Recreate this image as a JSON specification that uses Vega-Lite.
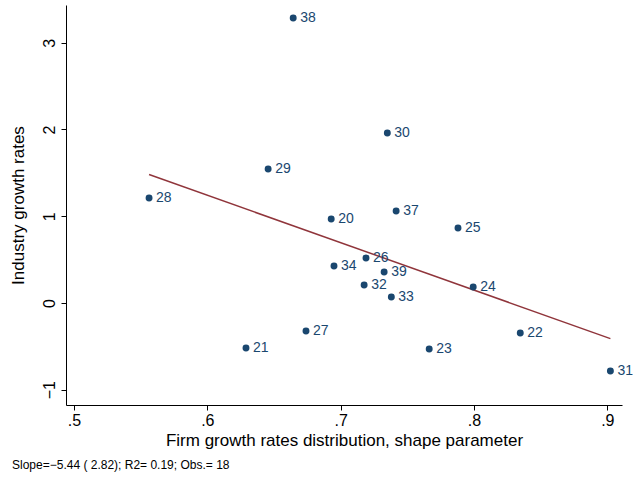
{
  "$schema": "https://vega.github.io/schema/vega-lite/v6.json",
  "width": 556,
  "height": 400,
  "autosize": "none",
  "padding": {"left": 66, "top": 5, "right": 12, "bottom": 80},
  "background": "white",
  "config": {"view": {"stroke": null}, "font": "Liberation Sans"},
  "title": {"text": "Slope=−5.44 ( 2.82); R2= 0.19; Obs.= 18", "orient": "bottom", "anchor": "start", "frame": "group", "dx": -54, "offset": 12, "fontSize": 12, "fontWeight": "normal", "color": "black"},
  "data": {"values": [
    {"id": "38", "x": 0.6644, "y": 3.285},
    {"id": "30", "x": 0.735, "y": 1.96},
    {"id": "29", "x": 0.6456, "y": 1.545},
    {"id": "28", "x": 0.5563, "y": 1.21},
    {"id": "20", "x": 0.6929, "y": 0.968},
    {"id": "37", "x": 0.7416, "y": 1.06},
    {"id": "25", "x": 0.788, "y": 0.865},
    {"id": "26", "x": 0.719, "y": 0.519},
    {"id": "34", "x": 0.695, "y": 0.427},
    {"id": "39", "x": 0.7326, "y": 0.357},
    {"id": "32", "x": 0.7176, "y": 0.207},
    {"id": "33", "x": 0.738, "y": 0.069},
    {"id": "24", "x": 0.7994, "y": 0.184},
    {"id": "27", "x": 0.674, "y": -0.323},
    {"id": "22", "x": 0.8347, "y": -0.346},
    {"id": "21", "x": 0.629, "y": -0.519},
    {"id": "23", "x": 0.7664, "y": -0.53},
    {"id": "31", "x": 0.9023, "y": -0.784}
  ]},
  "encoding": {
    "x": {"field": "x", "type": "quantitative", "scale": {"domain": [0.494, 0.911], "nice": false, "zero": false},
      "axis": {"title": "Firm growth rates distribution, shape parameter", "values": [0.5, 0.6, 0.7, 0.8, 0.9], "labelExpr": "replace(format(datum.value, '.1f'), '0.', '.')", "grid": false, "domainColor": "black", "tickColor": "black", "tickSize": 5, "labelFontSize": 16, "labelColor": "black", "titleFontSize": 17, "titleFontWeight": "normal", "titleColor": "black", "titlePadding": 4}},
    "y": {"field": "y", "type": "quantitative", "scale": {"domain": [-1.176, 3.435], "nice": false, "zero": false},
      "axis": {"title": "Industry growth rates", "values": [-1, 0, 1, 2, 3], "format": "d", "labelAngle": -90, "labelAlign": "center", "labelBaseline": "bottom", "labelPadding": 4, "grid": false, "domainColor": "black", "tickColor": "black", "tickSize": 5, "labelFontSize": 16, "labelColor": "black", "titleFontSize": 17, "titleFontWeight": "normal", "titleColor": "black", "titlePadding": 14}}
  },
  "layer": [
    {"transform": [{"regression": "y", "on": "x"}], "mark": {"type": "line", "color": "#90353b", "strokeWidth": 1.5}},
    {"mark": {"type": "circle", "color": "#1a476f", "opacity": 1, "size": 48}},
    {"mark": {"type": "text", "align": "left", "dx": 7, "fontSize": 14, "color": "#1a476f"}, "encoding": {"text": {"field": "id"}}}
  ]
}
